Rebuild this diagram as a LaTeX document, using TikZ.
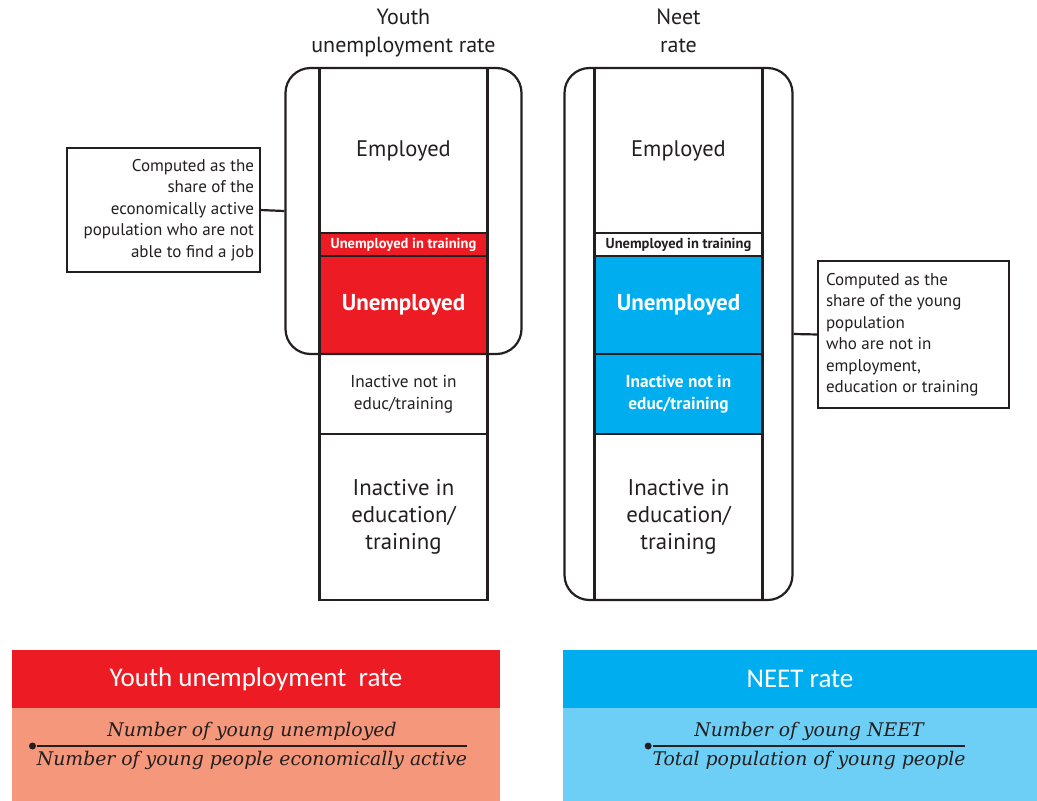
\documentclass[tikz,border=0pt]{standalone}
\usepackage{fontspec}
\setmainfont{PT Sans}
\newfontfamily\headfont{Carlito}
\newfontfamily\fracfont{DejaVu Serif}
\usetikzlibrary{positioning, fit}

\definecolor{ink}{HTML}{231F20}
\definecolor{yuRed}{HTML}{ED1C24}
\definecolor{yuSalmon}{HTML}{F4977A}
\definecolor{neetBlue}{HTML}{00AEEF}
\definecolor{neetLight}{HTML}{6DCFF6}

\newcommand{\fs}[1]{\fontsize{#1}{\dimexpr #1pt*135/100\relax}\selectfont}

\begin{document}
\begin{tikzpicture}[
  x=1pt, y=-1pt,
  node distance = 0pt,
  every node/.style = {text=ink},
  cell/.style = {draw=ink, line width=2.2pt, minimum width=168pt, inner sep=0pt,
                 outer sep=0pt, align=center},
  frame/.style = {draw=ink, line width=2.2pt, rounded corners=25pt, inner ysep=0pt},
  callout/.style = {draw=ink, line width=2.2pt, inner sep=0pt, outer sep=0pt,
                    font=\fontsize{17}{21.5}\selectfont},
  title/.style = {align=center, font=\fontsize{22}{28}\selectfont},
  hdr/.style = {minimum height=58pt, inner sep=0pt, outer sep=0pt, text=white,
                font=\headfont\fontsize{27}{30}\selectfont},
  body/.style = {minimum height=93pt, inner sep=0pt, outer sep=0pt},
  frac/.style = {inner sep=0pt, font=\fracfont\itshape\fontsize{18.8}{22}\selectfont},
  link/.style = {draw=ink, line width=2.2pt},
]
  \useasboundingbox (0,0) rectangle (1037,801);

  % youth unemployment column
  \node[cell, anchor=north, minimum height=165pt, font=\fs{22.5}] (emp1) at (403.5,68) {Employed};
  \node[cell, below=of emp1, minimum height=23pt, fill=yuRed, text=white,
        font=\bfseries\fs{14.5}] (tr1) {Unemployed in training};
  \node[cell, below=of tr1, minimum height=98pt, fill=yuRed, text=white,
        font=\bfseries\fs{23}] (unemp1) {Unemployed};
  \node[cell, below=of unemp1, minimum height=80pt,
        font=\fontsize{17.3}{22}\selectfont] (inact1) {Inactive not in\\educ/training};
  \node[cell, below=of inact1, minimum height=166pt,
        font=\fontsize{22.8}{27}\selectfont] (edu1) {Inactive in\\education/\\training};
  \node[frame, fit=(emp1)(unemp1), inner xsep=34pt] (frame1) {};

  % neet column
  \node[cell, anchor=north, minimum height=165pt, font=\fs{22.5}] (emp2) at (678.5,68) {Employed};
  \node[cell, below=of emp2, minimum height=23pt,
        font=\bfseries\fs{14.5}] (tr2) {Unemployed in training};
  \node[cell, below=of tr2, minimum height=98pt, fill=neetBlue, text=white,
        font=\bfseries\fs{23}] (unemp2) {Unemployed};
  \node[cell, below=of unemp2, minimum height=80pt, fill=neetBlue, text=white,
        font=\bfseries\fontsize{17.3}{22}\selectfont] (inact2) {Inactive not in\\educ/training};
  \node[cell, below=of inact2, minimum height=166pt,
        font=\fontsize{22.8}{27}\selectfont] (edu2) {Inactive in\\education/\\training};
  \node[frame, fit=(emp2)(edu2), inner xsep=30pt] (frame2) {};

  % titles
  \node[title, above=2pt of frame1] (title1) {Youth\\unemployment rate\strut};
  \node[title, above=2pt of frame2] (title2) {Neet\\rate\strut};

  % callouts
  \node[callout, minimum width=193pt, minimum height=124pt] (note1) at (163.5,210)
    {\parbox{181pt}{\raggedleft Computed as the\\share of the\\economically active\\
     population who are not\\able to find a job}};
  \node[callout, minimum width=191pt, minimum height=147pt] (note2) at (913.5,334.5)
    {\parbox{175pt}{\raggedright Computed as the\\share of the young\\population\\
     who are not in\\employment,\\education or training}};
  \draw[link] (note1.east) -- (frame1.west);
  \draw[link] (frame2.east) -- (note2.west);

  % formula panels
  \node[hdr, fill=yuRed, minimum width=488pt] (hdr1) at (256,679) {Youth unemployment~ rate};
  \node[body, fill=yuSalmon, minimum width=488pt, below=of hdr1] (body1) {};
  \node[frac] (frac1) at (252,746)
    {$\displaystyle{\mbox{Number of young unemployed}\above 1.6pt
     \mbox{Number of young people economically active}}$};
  \fill[ink] ([xshift=-3pt]frac1.west) circle (3.5pt);

  \node[hdr, fill=neetBlue, minimum width=474pt] (hdr2) at (800,679) {NEET rate};
  \node[body, fill=neetLight, minimum width=474pt, below=of hdr2] (body2) {};
  \node[frac] (frac2) at (809,746)
    {$\displaystyle{\mbox{Number of young NEET}\above 1.6pt
     \mbox{Total population of young people}}$};
  \fill[ink] ([xshift=-3pt]frac2.west) circle (3.5pt);
\end{tikzpicture}
\end{document}
